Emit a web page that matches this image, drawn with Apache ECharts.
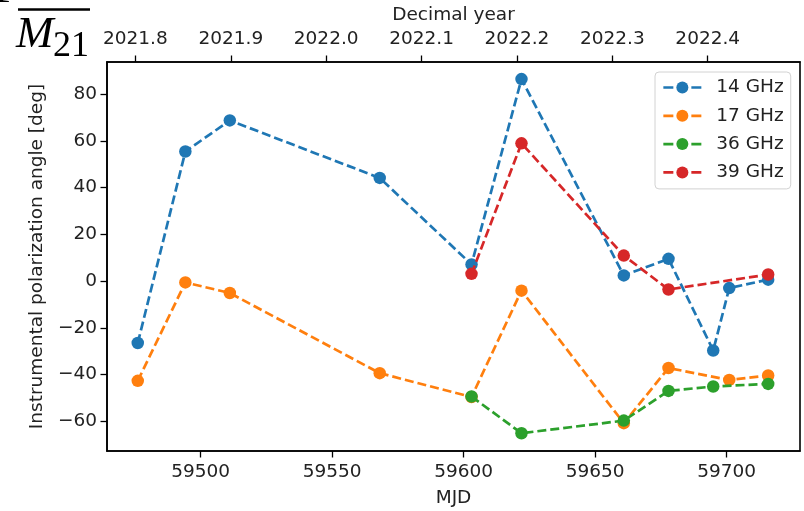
<!DOCTYPE html>
<html>
<head>
<meta charset="utf-8">
<script src="https://cdn.jsdelivr.net/npm/echarts@6/dist/echarts.min.js"></script>
<style>
  html, body { margin: 0; padding: 0; background: #fff; }
  #chart { width: 804px; height: 511px; }
</style>
</head>
<body>
<div id="chart"></div>
<script>
// Instrumental polarization angle per observing epoch and frequency band
const mjd14 = [59476.1, 59494.2, 59511.1, 59568.1, 59603.0, 59622.0, 59660.9, 59677.9, 59694.9, 59701.0, 59715.8];
const pa14  = [-26.5, 55.4, 68.7, 44.1, 7.1, 86.4, 2.4, 9.5, -29.7, -3.0, 0.6];

const mjd17 = [59476.1, 59494.2, 59511.1, 59568.1, 59603.0, 59622.0, 59660.9, 59677.9, 59701.0, 59715.8];
const pa17  = [-42.7, -0.6, -5.1, -39.4, -49.6, -4.1, -60.8, -37.2, -42.3, -40.4];

const mjd36 = [59603.0, 59622.0, 59660.9, 59677.9, 59694.9, 59715.8];
const pa36  = [-49.4, -65.1, -59.7, -47.0, -45.1, -44.0];

const mjd39 = [59603.0, 59622.0, 59660.9, 59677.9, 59715.8];
const pa39  = [3.1, 58.9, 10.9, -3.6, 2.8];

const seriesNames = ['14 GHz', '17 GHz', '36 GHz', '39 GHz'];
const seriesColors = ['#1f77b4', '#ff7f0e', '#2ca02c', '#d62728'];

// Axis ticks
const mjdTicks = [59500, 59550, 59600, 59650, 59700];
const yearTicks = [2021.8, 2021.9, 2022.0, 2022.1, 2022.2, 2022.3, 2022.4];
const angleTicks = [-60, -40, -20, 0, 20, 40, 60, 80];

// Axis extents and the MJD -> decimal year relation of the secondary axis
const mjdMin = 59464.4, mjdMax = 59727.9;
const angleMin = -72.7, angleMax = 93.7;
const yearRef = 2021.8, yearRefMjd = 59475.2, daysPerYear = 362.7;
const mjdToYear = m => yearRef + (m - yearRefMjd) / daysPerYear;

const FONT = 'DejaVu Sans';
const FS = 18.5;
const INK = '#222';
const minus = v => (v < 0 ? '\u2212' + Math.abs(v) : String(v));

const pairs = (xs, ys) => xs.map((x, i) => [x, ys[i]]);
const allData = [pairs(mjd14, pa14), pairs(mjd17, pa17), pairs(mjd36, pa36), pairs(mjd39, pa39)];

const chart = echarts.init(document.getElementById('chart'), null, { renderer: 'canvas' });

const axisCommon = {
  axisLine: { show: true, onZero: false, lineStyle: { color: '#000', width: 1.6 } },
  axisTick: { show: true, length: 6.5, lineStyle: { color: '#000', width: 1.3 } },
  splitLine: { show: false },
  nameTextStyle: { fontFamily: FONT, fontSize: FS, color: INK },
};

chart.setOption({
  animation: false,
  backgroundColor: '#fff',
  textStyle: { fontFamily: FONT },
  grid: {
    left: 107, right: 4, top: 62, bottom: 60,
    outerBoundsMode: 'none',
    containLabel: false,
    show: true, borderColor: '#000', borderWidth: 1.6, backgroundColor: 'transparent'
  },
  legend: {
    data: seriesNames,
    orient: 'vertical',
    left: 655, top: 72,
    padding: [6, 7, 7, 7],
    itemGap: 9.3,
    itemWidth: 38, itemHeight: 15,
    backgroundColor: 'rgba(255,255,255,0.8)',
    borderColor: '#d2d2d2', borderWidth: 1, borderRadius: 4,
    lineStyle: { type: [10, 4], width: 2.7 },
    textStyle: { fontFamily: FONT, fontSize: FS, color: INK, padding: [0, 0, 0, 10] }
  },
  xAxis: [
    Object.assign({}, axisCommon, {
      type: 'value', position: 'bottom', min: mjdMin, max: mjdMax,
      name: 'MJD', nameLocation: 'middle', nameGap: 38,
      axisTick: Object.assign({}, axisCommon.axisTick, { customValues: mjdTicks }),
      axisLabel: { customValues: mjdTicks, formatter: v => String(v), fontFamily: FONT, fontSize: FS, color: INK, margin: 12 }
    }),
    Object.assign({}, axisCommon, {
      type: 'value', position: 'top', min: mjdToYear(mjdMin), max: mjdToYear(mjdMax),
      name: 'Decimal year', nameLocation: 'middle', nameGap: 31,
      axisTick: Object.assign({}, axisCommon.axisTick, { customValues: yearTicks }),
      axisLabel: { customValues: yearTicks, formatter: v => v.toFixed(1), fontFamily: FONT, fontSize: FS, color: INK, margin: 13 }
    })
  ],
  yAxis: Object.assign({}, axisCommon, {
    type: 'value', min: angleMin, max: angleMax,
    name: 'Instrumental polarization angle [deg]', nameLocation: 'middle', nameGap: 60,
    axisTick: Object.assign({}, axisCommon.axisTick, { customValues: angleTicks }),
    axisLabel: { customValues: angleTicks, formatter: minus, fontFamily: FONT, fontSize: FS, color: INK, margin: 10 }
  }),
  series: seriesNames.map((name, i) => ({
    name: name,
    type: 'line',
    xAxisIndex: 0,
    yAxisIndex: 0,
    data: allData[i],
    symbol: 'circle',
    symbolSize: 12.5,
    color: seriesColors[i],
    itemStyle: { color: seriesColors[i] },
    lineStyle: { color: seriesColors[i], width: 2.7, type: [9, 4] },
    z: 2 + i
  })),
  graphic: [
    { type: 'text', left: -3, top: -34, style: { text: '[', font: '40px "Liberation Serif"', fill: '#000' } },
    { type: 'rect', shape: { x: 18, y: 8.3, width: 72, height: 2.4 }, style: { fill: '#000' } },
    { type: 'text', x: 16, y: 58, style: { text: 'M', font: 'italic 45px "Liberation Serif"', fill: '#000', textVerticalAlign: 'bottom' } },
    { type: 'text', x: 53, y: 65, style: { text: '21', font: '36px "Liberation Serif"', fill: '#000', textVerticalAlign: 'bottom' } }
  ]
});
</script>
</body>
</html>
